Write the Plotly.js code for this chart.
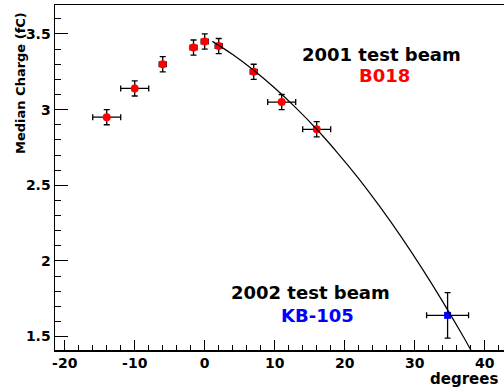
<!DOCTYPE html>
<html>
<head>
<meta charset="utf-8">
<script src="https://cdn.plot.ly/plotly-3.0.1.min.js"></script>
<style>html,body{margin:0;padding:0;background:#fff;} #chart{width:504px;height:391px;}</style>
</head>
<body>
<div id="chart"></div>
<script>
// 2001 test beam (B018)
var angle2001 = [-14, -10, -6, -1.6, 0, 2, 7, 11, 16];
var charge2001 = [2.95, 3.14, 3.30, 3.41, 3.45, 3.42, 3.25, 3.05, 2.87];
var angleErr2001 = [2, 2, 0.5, 0.5, 0.5, 0.5, 0.5, 2, 2];
var chargeErr2001 = [0.05, 0.05, 0.05, 0.05, 0.05, 0.05, 0.05, 0.05, 0.05];
// 2002 test beam (KB-105)
var angle2002 = [34.7];
var charge2002 = [1.64];
var angleErr2002 = [3];
var chargeErr2002 = [0.15];
// fit curve
var fitAngle = [1.1, 4, 7, 10, 13, 16, 19, 22, 25, 28, 31, 34, 37, 40];
var fitCharge = [3.451, 3.364, 3.260, 3.143, 3.013, 2.870, 2.713, 2.544, 2.360, 2.164, 1.954, 1.731, 1.495, 1.246];
// tick labels
var xTickVals = [-20, -10, 0, 10, 20, 30, 40];
var xTickText = ['-20', '-10', '0', '10', '20', '30', '40'];
var yTickVals = [1.5, 2, 2.5, 3, 3.5];
var yTickText = ['1.5', '2', '2.5', '3', '3.5'];

var F = 'DejaVu Sans, sans-serif';
var traces = [
  {x: angle2001, y: charge2001, type: 'scatter', mode: 'markers',
   marker: {color: '#ff0000', size: 8, symbol: 'circle'},
   error_x: {type: 'data', array: angleErr2001, color: '#000', thickness: 1.3, width: 3},
   error_y: {type: 'data', array: chargeErr2001, color: '#000', thickness: 1.3, width: 3},
   hoverinfo: 'skip'},
  {x: angle2002, y: charge2002, type: 'scatter', mode: 'markers',
   marker: {color: '#0000ff', size: 7, symbol: 'square'},
   error_x: {type: 'data', array: angleErr2002, color: '#000', thickness: 1.3, width: 3},
   error_y: {type: 'data', array: chargeErr2002, color: '#000', thickness: 1.3, width: 3},
   hoverinfo: 'skip'},
  {x: fitAngle, y: fitCharge, type: 'scatter', mode: 'lines',
   line: {color: '#000', width: 1.2, shape: 'spline'}, hoverinfo: 'skip'}
];

var layout = {
  width: 504, height: 391,
  margin: {l: 55, r: 0, t: 5, b: 41},
  paper_bgcolor: '#fff', plot_bgcolor: '#fff',
  showlegend: false,
  font: {family: F, size: 14, color: '#000'},
  xaxis: {range: [-21.39, 42.76], tickmode: 'array', tickvals: xTickVals, ticktext: xTickText,
          ticks: 'inside', ticklen: 10, tickwidth: 1, tickcolor: '#000',
          minor: {dtick: 2, tick0: 0, ticks: 'inside', ticklen: 5, tickcolor: '#000'},
          showgrid: false, zeroline: false, showline: true, linecolor: '#000', linewidth: 1.5, mirror: true,
          tickfont: {family: F, size: 14, weight: 'bold', color: '#000'}},
  yaxis: {range: [1.411, 3.6915], tickmode: 'array', tickvals: yTickVals, ticktext: yTickText,
          ticks: 'inside', ticklen: 13, tickwidth: 1, tickcolor: '#000',
          minor: {dtick: 0.1, tick0: 0, ticks: 'inside', ticklen: 6, tickcolor: '#000'},
          showgrid: false, zeroline: false, showline: true, linecolor: '#000', linewidth: 1.5,
          tickfont: {family: F, size: 14, weight: 'bold', color: '#000'}},
  annotations: [
    {text: 'Median Charge (fC)', xref: 'paper', yref: 'paper', x: -0.078, y: 0.9855, xanchor: 'center', yanchor: 'top',
     textangle: -90, showarrow: false, font: {family: F, size: 13, weight: 'bold', color: '#000'}},
    {text: 'degrees', xref: 'paper', yref: 'paper', x: 0.991, y: -0.0854, xanchor: 'right', yanchor: 'middle',
     showarrow: false, font: {family: F, size: 15, weight: 'bold', color: '#000'}},
    {text: '2001 test beam', xref: 'paper', yref: 'paper', x: (381 - 55) / 449, y: (350.5 - 55) / 345.5, xanchor: 'center', yanchor: 'middle',
     showarrow: false, font: {family: F, size: 18, weight: 'bold', color: '#000'}},
    {text: 'B018', xref: 'paper', yref: 'paper', x: (384 - 55) / 449, y: (350.5 - 76) / 345.5, xanchor: 'center', yanchor: 'middle',
     showarrow: false, font: {family: F, size: 18, weight: 'bold', color: '#ff0000'}},
    {text: '2002 test beam', xref: 'paper', yref: 'paper', x: (310 - 55) / 449, y: (350.5 - 293) / 345.5, xanchor: 'center', yanchor: 'middle',
     showarrow: false, font: {family: F, size: 18, weight: 'bold', color: '#000'}},
    {text: 'KB-105', xref: 'paper', yref: 'paper', x: (317 - 55) / 449, y: (350.5 - 316) / 345.5, xanchor: 'center', yanchor: 'middle',
     showarrow: false, font: {family: F, size: 18, weight: 'bold', color: '#0000ff'}}
  ]
};

Plotly.newPlot('chart', traces, layout, {staticPlot: true, displayModeBar: false});
</script>
</body>
</html>
